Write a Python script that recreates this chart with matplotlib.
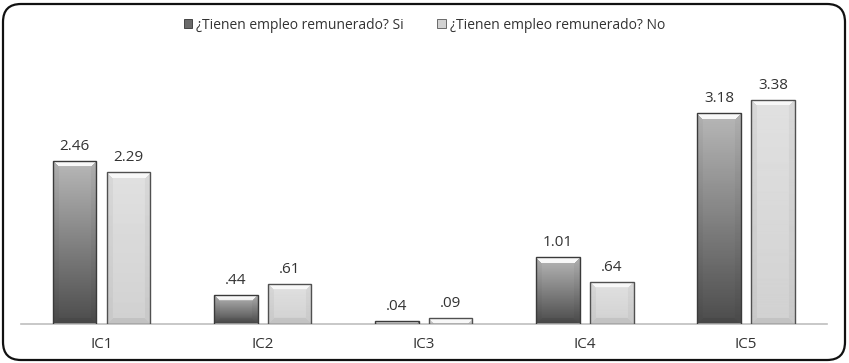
import matplotlib
matplotlib.use('Agg')
import matplotlib.pyplot as plt
import numpy as np
from matplotlib.patches import FancyBboxPatch, Patch

# data
categories = ['IC1', 'IC2', 'IC3', 'IC4', 'IC5']
values_si = [2.46, 0.44, 0.04, 1.01, 3.18]
values_no = [2.29, 0.61, 0.09, 0.64, 3.38]
series_names = ['¿Tienen empleo remunerado? Si', '¿Tienen empleo remunerado? No']

plt.rcParams['font.family'] = ['Open Sans', 'DejaVu Sans']
text_color = '#333333'


def fmt(v):
    s = '%.2f' % v
    if s.startswith('0.'):
        s = s[1:]
    return s


def bevel_image(w_px, h_px, top, bottom, bevel=6):
    # vertical gradient with a soft bevelled frame, values in grey 0..1
    h = max(int(round(h_px)), 2)
    w = max(int(round(w_px)), 2)
    t = np.linspace(0, 1, h)[:, None]
    img = np.repeat(top + (bottom - top) * t, w, axis=1)
    yy, xx = np.mgrid[0:h, 0:w]
    d_top = yy
    d_bot = h - 1 - yy
    d_side = np.minimum(xx, w - 1 - xx)
    top_zone = (d_top < bevel) & (d_top <= d_side)
    side_zone = (d_side < bevel) & ~top_zone & (d_side <= d_bot)
    bot_zone = (d_bot < bevel) & ~top_zone & ~side_zone
    img[top_zone] = np.clip(img[top_zone] + 0.3, 0, 0.97)
    img[side_zone] = img[side_zone] * 0.96
    img[bot_zone] = img[bot_zone] * 0.93
    return img


fig = plt.figure(figsize=(8.49, 3.63), dpi=100)
ax = fig.add_axes([0.0247, 0.1074, 0.949, 0.727])

x = np.arange(len(categories))
width = 0.27
offset = 0.167
ymax = 3.98

bars_si = ax.bar(x - offset, values_si, width, facecolor='none',
                 edgecolor='#3a3a3a', linewidth=1.0, zorder=3)
bars_no = ax.bar(x + offset, values_no, width, facecolor='none',
                 edgecolor='#505050', linewidth=1.0, zorder=3)

ax.set_xlim(-0.5, len(categories) - 0.5)
ax.set_ylim(0, ymax)

# pixel size of one data unit, for the bevel
bbox = ax.get_window_extent()
px_x = bbox.width / len(categories)
px_y = bbox.height / ymax

for bars, top, bottom in [(bars_si, 0.72, 0.30), (bars_no, 0.88, 0.82)]:
    for b in bars:
        x0 = b.get_x()
        w = b.get_width()
        h = b.get_height()
        img = bevel_image(w * px_x, h * px_y, top, bottom)
        im = ax.imshow(img, cmap='gray', vmin=0, vmax=1, aspect='auto',
                       extent=(x0, x0 + w, 0, h), interpolation='bilinear',
                       zorder=2)
        im.set_clip_path(b)

for bars, vals in [(bars_si, values_si), (bars_no, values_no)]:
    for b, v in zip(bars, vals):
        ax.annotate(fmt(v), (b.get_x() + b.get_width() / 2, b.get_height()),
                    xytext=(0, 5), textcoords='offset points',
                    ha='center', va='bottom', fontsize=11, color=text_color)

ax.set_xlim(-0.5, len(categories) - 0.5)
ax.set_ylim(0, ymax)
ax.set_xticks(x)
ax.set_xticklabels(categories, fontsize=11, color=text_color)
ax.tick_params(axis='x', length=0, pad=9)
ax.set_yticks([])
for s in ['top', 'left', 'right']:
    ax.spines[s].set_visible(False)
ax.spines['bottom'].set_color('#bfbfbf')
ax.spines['bottom'].set_linewidth(1.2)
ax.patch.set_visible(False)

handles = [Patch(facecolor='#6a6a6a', edgecolor='#333333', linewidth=0.6),
           Patch(facecolor='#d2d2d2', edgecolor='#555555', linewidth=0.6)]
fig.legend(handles, series_names, loc='center', bbox_to_anchor=(0.5, 0.931),
           ncol=2, frameon=False, fontsize=10, handlelength=0.6,
           handleheight=0.6, handletextpad=0.3, columnspacing=2.4,
           labelcolor=text_color)

# rounded outer frame
frame = FancyBboxPatch((3, 3), 842, 356, boxstyle='round,pad=0,rounding_size=18',
                       transform=None, facecolor='none', edgecolor='#111111',
                       linewidth=1.6)
fig.patches.append(frame)

fig.savefig('out.png', dpi=100)
